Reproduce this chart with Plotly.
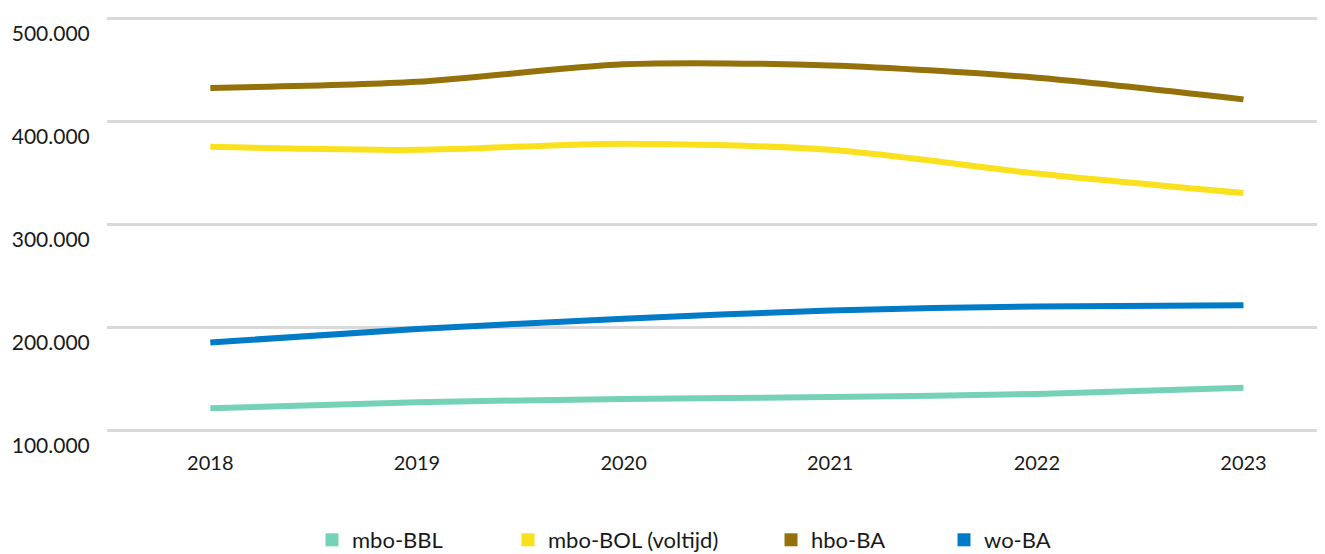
import plotly.graph_objects as go

years = [2018, 2019, 2020, 2021, 2022, 2023]
mbo_bbl = [121000, 127000, 130000, 132000, 135000, 141000]
mbo_bol = [375000, 372000, 378000, 372000, 349000, 330000]
hbo_ba = [432000, 438000, 455000, 454000, 442000, 421000]
wo_ba = [185000, 198000, 208000, 216000, 220000, 221000]

series_names = ["mbo-BBL", "mbo-BOL (voltijd)", "hbo-BA", "wo-BA"]
series_vals = [mbo_bbl, mbo_bol, hbo_ba, wo_ba]
colors = ["#76D2B6", "#F9E11E", "#94710A", "#007BC7"]
y_ticks = [100000, 200000, 300000, 400000, 500000]
y_tick_labels = ["100.000", "200.000", "300.000", "400.000", "500.000"]

legend_ids = ["legend", "legend2", "legend3", "legend4"]
legend_x_px = [326, 522, 785, 958]

fig = go.Figure()
for name, vals, c in zip(series_names, series_vals, colors):
    fig.add_trace(go.Scatter(x=years, y=vals, mode="lines", name=name,
                             line=dict(color=c, width=6, shape="spline", smoothing=0.8),
                             showlegend=False))
for name, c, lid in zip(series_names, colors, legend_ids):
    fig.add_trace(go.Scatter(x=[None], y=[None], mode="markers", name=name,
                             marker=dict(color=c, symbol="square", size=13),
                             legend=lid))

# the page body has an 8px margin: figure coords = screen coords - 8
OFF = 8
W, H = 1325, 554
font_family = "Lato, 'Noto Sans', sans-serif"
leg_common = dict(orientation="h", xanchor="left", xref="container", yref="container",
                  y=1 - (540 - OFF) / H, yanchor="middle",
                  font=dict(size=22), itemwidth=30, bgcolor="rgba(0,0,0,0)")
layout_legends = {}
for lid, px in zip(legend_ids, legend_x_px):
    layout_legends[lid] = dict(leg_common, x=(px - 22) / W)

fig.update_layout(
    width=W, height=H,
    margin=dict(l=107 - OFF, r=3 + OFF, t=14 - OFF, b=120 + OFF),
    plot_bgcolor="white", paper_bgcolor="white",
    font=dict(family=font_family, color="#1a1a1a", size=18),
    xaxis=dict(range=[2017.5, 2023.38], tickvals=years, ticktext=[str(y) for y in years],
               showgrid=False, zeroline=False, showline=False, automargin=False,
               ticks="outside", ticklen=11, tickcolor="rgba(0,0,0,0)",
               tickfont=dict(size=20)),
    yaxis=dict(range=[96117, 503883], tickvals=y_ticks, ticktext=y_tick_labels,
               showgrid=True, gridcolor="#d9d9d9", gridwidth=3, zeroline=False, showline=False,
               automargin=False,
               ticks="outside", ticklen=16, tickcolor="rgba(0,0,0,0)",
               ticklabelposition="outside bottom", ticklabelstandoff=12,
               tickfont=dict(size=21)),
    **layout_legends,
)
fig.write_html("out.html")
